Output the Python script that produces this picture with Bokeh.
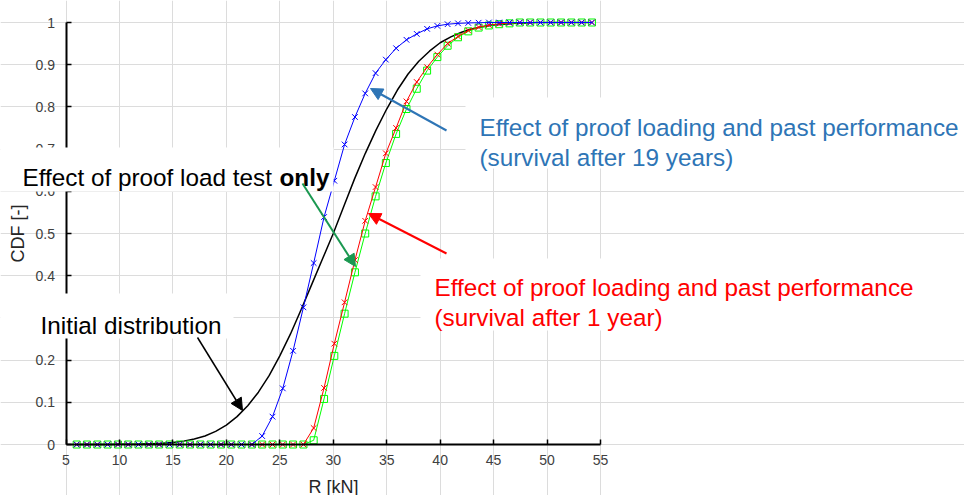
from bokeh.plotting import figure
from bokeh.models import Label, Arrow, NormalHead, BoxAnnotation, FixedTicker, Range1d
from bokeh.embed import file_html
from bokeh.resources import INLINE

# ---------------- data ----------------
# resistance values R [kN] at which the updated CDFs are marked
R = [6.00, 6.96, 7.93, 8.89, 9.86, 10.82, 11.78, 12.75, 13.71, 14.68,
     15.64, 16.60, 17.57, 18.53, 19.50, 20.46, 21.42, 22.39, 23.35, 24.32,
     25.28, 26.24, 27.21, 28.17, 29.14, 30.10, 31.06, 32.03, 32.99, 33.96,
     34.92, 35.88, 36.85, 37.81, 38.78, 39.74, 40.70, 41.67, 42.63, 43.60,
     44.56, 45.52, 46.49, 47.45, 48.42, 49.38, 50.34, 51.31, 52.27, 53.24, 54.20]

after_19yr_cdf = [0] * 18 + [0.02, 0.066, 0.133, 0.222, 0.325, 0.43, 0.539, 0.625, 0.711, 0.776,
                             0.832, 0.88, 0.912, 0.939, 0.959, 0.973, 0.985, 0.992, 0.996, 0.998,
                             0.999, 0.9995] + [1.0] * 11

after_1yr_cdf = [0] * 23 + [0.039, 0.134, 0.239, 0.337, 0.437, 0.53, 0.61, 0.69, 0.75, 0.813,
                            0.859, 0.894, 0.924, 0.95, 0.967, 0.981, 0.989, 0.994, 0.997,
                            0.999] + [1.0] * 8

proof_only_cdf = [0] * 23 + [0.01, 0.108, 0.21, 0.31, 0.408, 0.5, 0.588, 0.667, 0.736, 0.795,
                             0.843, 0.886, 0.918, 0.945, 0.965, 0.979, 0.988, 0.993, 0.996,
                             0.998] + [1.0] * 8

# initial (prior) distribution, smooth curve
R_initial = list(range(6, 55))
initial_cdf = [0, 0, 0, 0, 0.0003, 0.0006, 0.001, 0.002, 0.003, 0.005,
               0.008, 0.013, 0.02, 0.031, 0.046, 0.066, 0.092, 0.124, 0.163, 0.21,
               0.262, 0.32, 0.38, 0.44, 0.5, 0.565, 0.63, 0.69, 0.745, 0.795,
               0.84, 0.878, 0.908, 0.932, 0.952, 0.966, 0.977, 0.985, 0.99, 0.994,
               0.996, 0.998, 0.999, 1.0, 1.0, 1.0, 1.0, 1.0, 1.0]

x_ticks = [5, 10, 15, 20, 25, 30, 35, 40, 45, 50, 55]
y_ticks = [0, 0.1, 0.2, 0.3, 0.4, 0.5, 0.6, 0.7, 0.8, 0.9, 1]
y_tick_labels = ["0", "0.1", "0.2", "0.3", "0.4", "0.5", "0.6", "0.7", "0.8", "0.9", "1"]
x_min, x_max = 5, 55
y_min, y_max = 0, 1

# ---------------- layout ----------------
W, H = 964, 495
FX0, FX1 = 65.5, 600   # canvas pixels of x = 5 and x = 55
FY0, FY1 = 22, 444     # canvas pixels of y = 1 and y = 0
sx = (x_max - x_min) / (FX1 - FX0)
sy = (y_max - y_min) / (FY1 - FY0)

FONT = "Liberation Sans"
BLUE_TXT = "#2E75B6"
GREEN_ARR = "#1A9850"
TXT = "24.3px"

# the frame covers the whole canvas so that annotations outside the axes are not clipped
p = figure(width=W, height=H,
           x_range=Range1d(x_min - FX0 * sx, x_min + (W - FX0) * sx),
           y_range=Range1d(y_min - (H - FY1) * sy, y_min + FY1 * sy),
           output_backend="svg", toolbar_location=None,
           min_border_left=0, min_border_right=0, min_border_top=0, min_border_bottom=0)
p.outline_line_color = None
p.background_fill_color = "white"

p.xaxis.fixed_location = y_min
p.yaxis.fixed_location = x_min
p.xaxis.bounds = (x_min, x_max)
p.yaxis.bounds = (y_min, y_max)
p.xaxis.ticker = FixedTicker(ticks=x_ticks)
p.yaxis.ticker = FixedTicker(ticks=y_ticks)
p.yaxis.major_label_overrides = {t: s for t, s in zip(y_ticks, y_tick_labels)}
p.xgrid.ticker = FixedTicker(ticks=x_ticks)
p.ygrid.ticker = FixedTicker(ticks=y_ticks)
p.xgrid.bounds = (y_min, y_max)
p.ygrid.bounds = (x_min, x_max)
p.grid.grid_line_color = "#dcdcdc"
p.grid.grid_line_width = 1

for ax in (p.xaxis[0], p.yaxis[0]):
    ax.axis_line_color = "black"
    ax.axis_line_width = 2
    ax.major_tick_in = 5
    ax.major_tick_out = 0
    ax.major_tick_line_color = "black"
    ax.major_tick_line_width = 1.5
    ax.minor_tick_line_color = None
    ax.major_label_text_font = FONT
    ax.major_label_text_font_size = "14px"
    ax.major_label_text_color = "#404040"
    ax.axis_label_text_font = FONT
    ax.axis_label_text_font_size = "18px"
    ax.axis_label_text_font_style = "normal"
    ax.axis_label_text_color = "#262626"
p.xaxis.major_label_standoff = 10
p.yaxis.major_label_standoff = 11
p.xaxis.axis_label = "R [kN]"
p.yaxis.axis_label = "CDF [-]"
p.xaxis.axis_label_standoff = 9
p.yaxis.axis_label_standoff = 5

# ---------------- curves ----------------
p.line(R_initial, initial_cdf, line_color="black", line_width=1.5)

p.line(R, proof_only_cdf, line_color="#00FF00", line_width=1)
p.scatter(R, proof_only_cdf, marker="square", size=7, fill_color=None,
          line_color="#00FF00", line_width=1)

p.line(R, after_1yr_cdf, line_color="#FF0000", line_width=1)
p.scatter(R, after_1yr_cdf, marker="x", size=8, line_color="#FF0000", line_width=1)

p.line(R, after_19yr_cdf, line_color="#0000FF", line_width=1)
p.scatter(R, after_19yr_cdf, marker="x", size=8, line_color="#0000FF", line_width=1)

# ---------------- white text boxes (canvas pixels) ----------------
for (l, r, t, b) in [(0, 333, 147, 191), (0, 233, 293, 338),
                     (465, 964, 97, 168), (420, 964, 258, 330)]:
    p.add_layout(BoxAnnotation(left=l, right=r, top=t, bottom=b,
                               left_units="canvas", right_units="canvas",
                               top_units="canvas", bottom_units="canvas",
                               fill_color="white", fill_alpha=1, line_color=None))


def lab(text, px, py, color="black", size=TXT, style="normal", align="left",
        baseline="alphabetic"):
    p.add_layout(Label(x=px, y=py, x_units="canvas", y_units="canvas",
                       text=text, text_color=color, text_font=FONT,
                       text_font_size=size, text_font_style=style, text_align=align,
                       text_baseline=baseline))


lab("Effect of proof load test ", 22, 177)
lab("only", 279, 177, style="bold")
lab("Initial distribution", 40, 325)
lab("Effect of proof loading and past performance", 479, 127, color=BLUE_TXT)
lab("(survival after 19 years)", 479, 157, color=BLUE_TXT)
lab("Effect of proof loading and past performance", 434, 287, color="#FF0000")
lab("(survival after 1 year)", 434, 317, color="#FF0000")

# ---------------- arrows (canvas pixels) ----------------
for (x0, y0, x1, y1, c, w) in [(446, 130, 370, 88, BLUE_TXT, 2),
                               (446, 253, 368, 213, "#FF0000", 2),
                               (302, 183, 355, 266, GREEN_ARR, 2),
                               (197, 337, 242, 410, "black", 1.5)]:
    p.add_layout(Arrow(x_start=x0, y_start=y0, x_end=x1, y_end=y1,
                       start_units="canvas", end_units="canvas",
                       line_color=c, line_width=w,
                       end=NormalHead(size=12, fill_color=c, line_color=c)))

open("out.html", "w").write(file_html(p, INLINE))
